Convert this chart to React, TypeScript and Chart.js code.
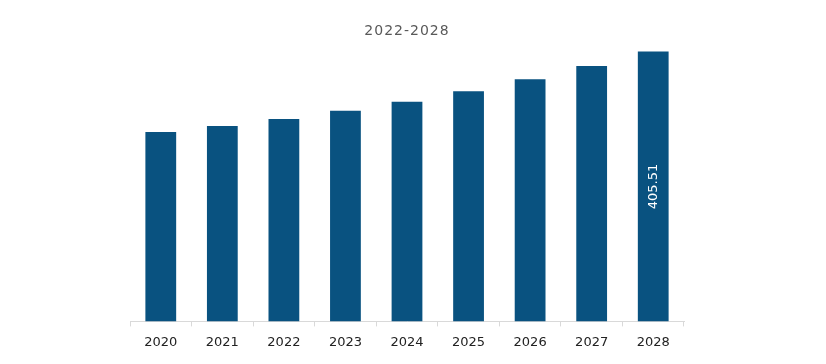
import React, { useEffect, useRef } from "react";
import { Chart, registerables } from "chart.js";

Chart.register(...registerables);

const categories = ["2020", "2021", "2022", "2023", "2024", "2025", "2026", "2027", "2028"];
const values = [284.6, 293.6, 304.2, 316.7, 330.2, 345.9, 363.9, 384.0, 405.51];
const labelledIndex = 8;
const titleText = "2022-2028";

const BAR = "#095280";
const FONT = "'DejaVu Sans', sans-serif";

const overlay = {
  id: "overlay",
  afterDatasetsDraw(chart: any) {
    const ctx = chart.ctx;
    const area = chart.chartArea;
    ctx.save();
    // title
    ctx.fillStyle = "#595959";
    ctx.font = `14px ${FONT}`;
    ctx.textAlign = "center";
    ctx.textBaseline = "middle";
    try { (ctx as any).letterSpacing = "1px"; } catch (e) {}
    ctx.fillText(titleText, (area.left + area.right) / 2, 31);
    try { (ctx as any).letterSpacing = "0px"; } catch (e) {}
    // value label
    const bar = chart.getDatasetMeta(0).data[labelledIndex];
    if (bar) {
      const cx = bar.x;
      const cy = (bar.y + bar.base) / 2;
      ctx.translate(cx, cy);
      ctx.rotate(-Math.PI / 2);
      ctx.fillStyle = "#ffffff";
      ctx.font = `13px ${FONT}`;
      ctx.fillText(values[labelledIndex].toFixed(2), 0, 0);
    }
    ctx.restore();
  },
};

export default function App() {
  const ref = useRef<HTMLCanvasElement | null>(null);
  useEffect(() => {
    if (!ref.current) return;
    const chart = new Chart(ref.current, {
      type: "bar",
      data: {
        labels: categories,
        datasets: [
          {
            data: values,
            backgroundColor: BAR,
            barPercentage: 0.5,
            categoryPercentage: 1,
          },
        ],
      },
      options: {
        animation: false,
        responsive: false,
        maintainAspectRatio: false,
        layout: { padding: { left: 130, right: 142, top: 22, bottom: 6 } },
        plugins: {
          legend: { display: false },
          title: { display: false },
          tooltip: { enabled: false },
        },
        scales: {
          x: {
            offset: true,
            grid: {
              offset: true,
              drawOnChartArea: false,
              drawTicks: true,
              tickLength: 5,
              color: "#d9d9d9",
            },
            border: { color: "#d9d9d9" },
            ticks: {
              color: "#222222",
              font: { family: FONT, size: 13 },
              padding: 8,
              maxRotation: 0,
            },
          },
          y: {
            display: false,
            min: 0,
            max: 450,
          },
        },
      },
      plugins: [overlay],
    });
    return () => chart.destroy();
  }, []);
  return (
    <div style={{ position: "fixed", left: 0, top: 0, width: 826, height: 364, background: "#fff" }}>
      <canvas ref={ref} width={826} height={364} style={{ width: 826, height: 364 }} />
    </div>
  );
}
